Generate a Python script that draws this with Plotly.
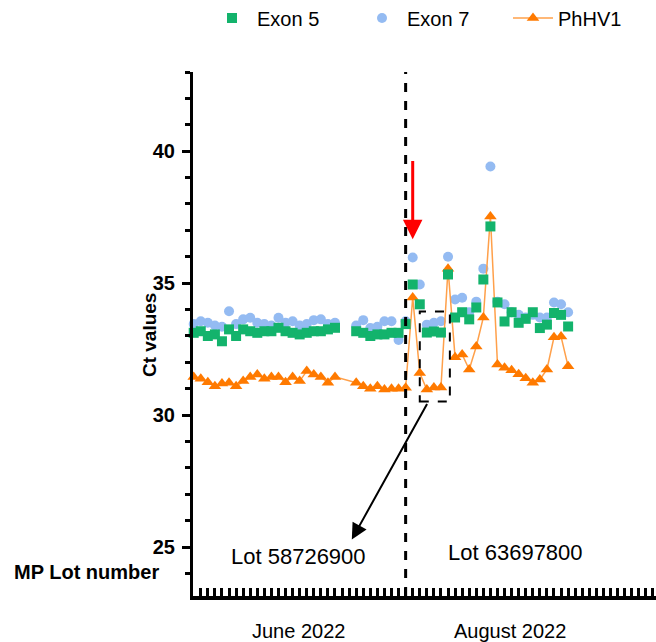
import plotly.graph_objects as go

# ---------------- data ----------------
run_index = list(range(0, 21)) + list(range(23, 54))

exon5 = [33.12, 33.18, 33.0, 33.06, 32.8, 33.25, 33.0, 33.25, 33.18, 33.12, 33.18,
         33.18, 33.31, 33.18, 33.12, 33.06, 33.12, 33.18, 33.18, 33.25, 33.31,
         33.18, 33.12, 33.0, 33.06, 33.06, 33.12, 33.12, 33.45,
         34.95, 34.2, 33.13, 33.17, 33.13, 35.33, 33.7, 33.9, 33.63, 34.08, 35.14, 37.15,
         34.27, 33.55, 33.9, 33.5, 33.65, 33.9, 33.3, 33.43, 33.87, 33.8, 33.36]

exon7 = [33.45, 33.56, 33.5, 33.4, 33.35, 33.94, 33.45, 33.63, 33.69, 33.5, 33.45,
         33.4, 33.69, 33.5, 33.56, 33.4, 33.45, 33.6, 33.63, 33.45, 33.5,
         33.4, 33.6, 33.3, 33.35, 33.56, 33.56, 32.85, 33.56,
         35.97, 34.95, 33.43, 33.5, 33.56, 36.0, 34.38, 34.45, 33.9, 34.3, 35.55, 39.42,
         34.3, 34.2, 33.9, 33.8, 33.7, 33.8, 33.7, 33.7, 34.27, 34.2, 33.9]

phhv1 = [31.45, 31.38, 31.25, 31.1, 31.2, 31.23, 31.1, 31.29, 31.45, 31.54, 31.38,
         31.45, 31.45, 31.25, 31.45, 31.29, 31.67, 31.54, 31.45, 31.23, 31.45,
         31.23, 31.1, 31.0, 31.1, 30.97, 31.0, 31.0, 31.04,
         34.46, 31.6, 30.97, 31.05, 31.05, 35.55, 32.19, 32.3, 31.73, 32.6, 33.7, 37.53,
         31.92, 31.8, 31.7, 31.55, 31.4, 31.23, 31.35, 31.73, 32.95, 32.98, 31.85]

y_major_ticks = [25, 30, 35, 40]
lot_change_run = 30
lot_labels = ["Lot 58726900", "Lot 63697800"]
month_labels = ["June 2022", "August 2022"]

# ---------------- style ----------------
FONT = "Arial, Liberation Sans, sans-serif"
GREEN = "#13b36c"
BLUE = "#94bbf2"
ORANGE = "#ff7a00"
ORANGE_LINE = "#ffa04a"

fig = go.Figure()

fig.add_trace(go.Scatter(
    x=run_index, y=exon7, mode="markers", name="Exon 7", legend="legend2",
    marker=dict(symbol="circle", size=10, color=BLUE), cliponaxis=False))
fig.add_trace(go.Scatter(
    x=run_index, y=phhv1, mode="lines+markers", name="PhHV1", legend="legend3",
    line=dict(color=ORANGE_LINE, width=1.5),
    marker=dict(symbol="triangle-up", size=11, color=ORANGE), cliponaxis=False))
fig.add_trace(go.Scatter(
    x=run_index, y=exon5, mode="markers", name="Exon 5", legend="legend",
    marker=dict(symbol="square", size=10, color=GREEN), cliponaxis=False))

Y_MIN, Y_MAX = 23.15, 43
X_MIN, X_MAX = -0.1, 65.44

# lot change dashed line
fig.add_shape(type="line", x0=lot_change_run, x1=lot_change_run, y0=Y_MIN, y1=Y_MAX,
              xref="x", yref="y", line=dict(color="black", width=3, dash="dash"))
# dashed box
fig.add_shape(type="rect", x0=32.0, x1=36.26, y0=30.52, y1=33.93,
              xref="x", yref="y", line=dict(color="black", width=2, dash="dash"))

# red arrow
fig.add_annotation(x=31.0, y=36.66, ax=31.0, ay=39.69, xref="x", yref="y",
                   axref="x", ayref="y", showarrow=True, text="",
                   arrowhead=2, arrowsize=1.3, arrowwidth=3, arrowcolor="#ff0000")
# black arrow
fig.add_annotation(x=22.38, y=25.29, ax=33.15, ay=30.48, xref="x", yref="y",
                   axref="x", ayref="y", showarrow=True, text="",
                   arrowhead=2, arrowsize=1.6, arrowwidth=2, arrowcolor="black")

# lot labels
fig.add_annotation(x=14.8, y=24.65, text=lot_labels[0], showarrow=False,
                   xanchor="center", yanchor="middle",
                   font=dict(family=FONT, size=22, color="black"))
fig.add_annotation(x=45.5, y=24.8, text=lot_labels[1], showarrow=False,
                   xanchor="center", yanchor="middle",
                   font=dict(family=FONT, size=22, color="black"))
# month labels (below plot, paper coords)
fig.add_annotation(x=0.2268, y=-0.0668, xref="paper", yref="paper",
                   text=month_labels[0], showarrow=False,
                   xanchor="center", yanchor="middle",
                   font=dict(family=FONT, size=20, color="black"))
fig.add_annotation(x=0.6847, y=-0.0668, xref="paper", yref="paper",
                   text=month_labels[1], showarrow=False,
                   xanchor="center", yanchor="middle",
                   font=dict(family=FONT, size=20, color="black"))
# MP lot number
fig.add_annotation(x=-0.391, y=0.0458, xref="paper", yref="paper",
                   text="<b>MP Lot number</b>", showarrow=False,
                   xanchor="left", yanchor="middle",
                   font=dict(family=FONT, size=20, color="black"))
# y-axis title
fig.add_annotation(x=-0.095, y=0.498, xref="paper", yref="paper",
                   text="<b>Ct values</b>", showarrow=False, textangle=-90,
                   xanchor="center", yanchor="middle",
                   font=dict(family=FONT, size=19, color="black"))


def legend_box(px_left):
    return dict(orientation="h", xref="container", yref="container",
                x=px_left / 656, y=1 - 18 / 642, xanchor="left", yanchor="middle",
                itemwidth=40, font=dict(family=FONT, size=20, color="black"),
                bgcolor="rgba(0,0,0,0)", borderwidth=0)


fig.update_layout(
    width=656, height=642,
    margin=dict(l=193, r=0, t=72, b=46),
    paper_bgcolor="white", plot_bgcolor="white",
    font=dict(family=FONT, color="black"),
    showlegend=True,
    legend=legend_box(207),
    legend2=legend_box(357),
    legend3=legend_box(508),
    xaxis=dict(range=[X_MIN, X_MAX], showgrid=False, zeroline=False, automargin=False,
               showline=True, linecolor="black", linewidth=4,
               ticks="inside", ticklen=8, tickwidth=2.5, tickcolor="black",
               tick0=0, dtick=1, showticklabels=False),
    yaxis=dict(range=[Y_MIN, Y_MAX], showgrid=False, zeroline=False, automargin=False,
               showline=True, linecolor="black", linewidth=3,
               ticks="outside", ticklen=8, tickwidth=2.5, tickcolor="black",
               tickvals=y_major_ticks, ticklabelstandoff=3,
               tickfont=dict(family=FONT, size=20, color="black", weight="bold"),
               minor=dict(dtick=1, tick0=0, ticks="outside", ticklen=5,
                          tickwidth=2.5, tickcolor="black", showgrid=False)),
)

fig.write_html(
    "out.html",
    config={"displayModeBar": False},
    post_script="document.body.style.margin='0';document.body.style.overflow='hidden';",
)
